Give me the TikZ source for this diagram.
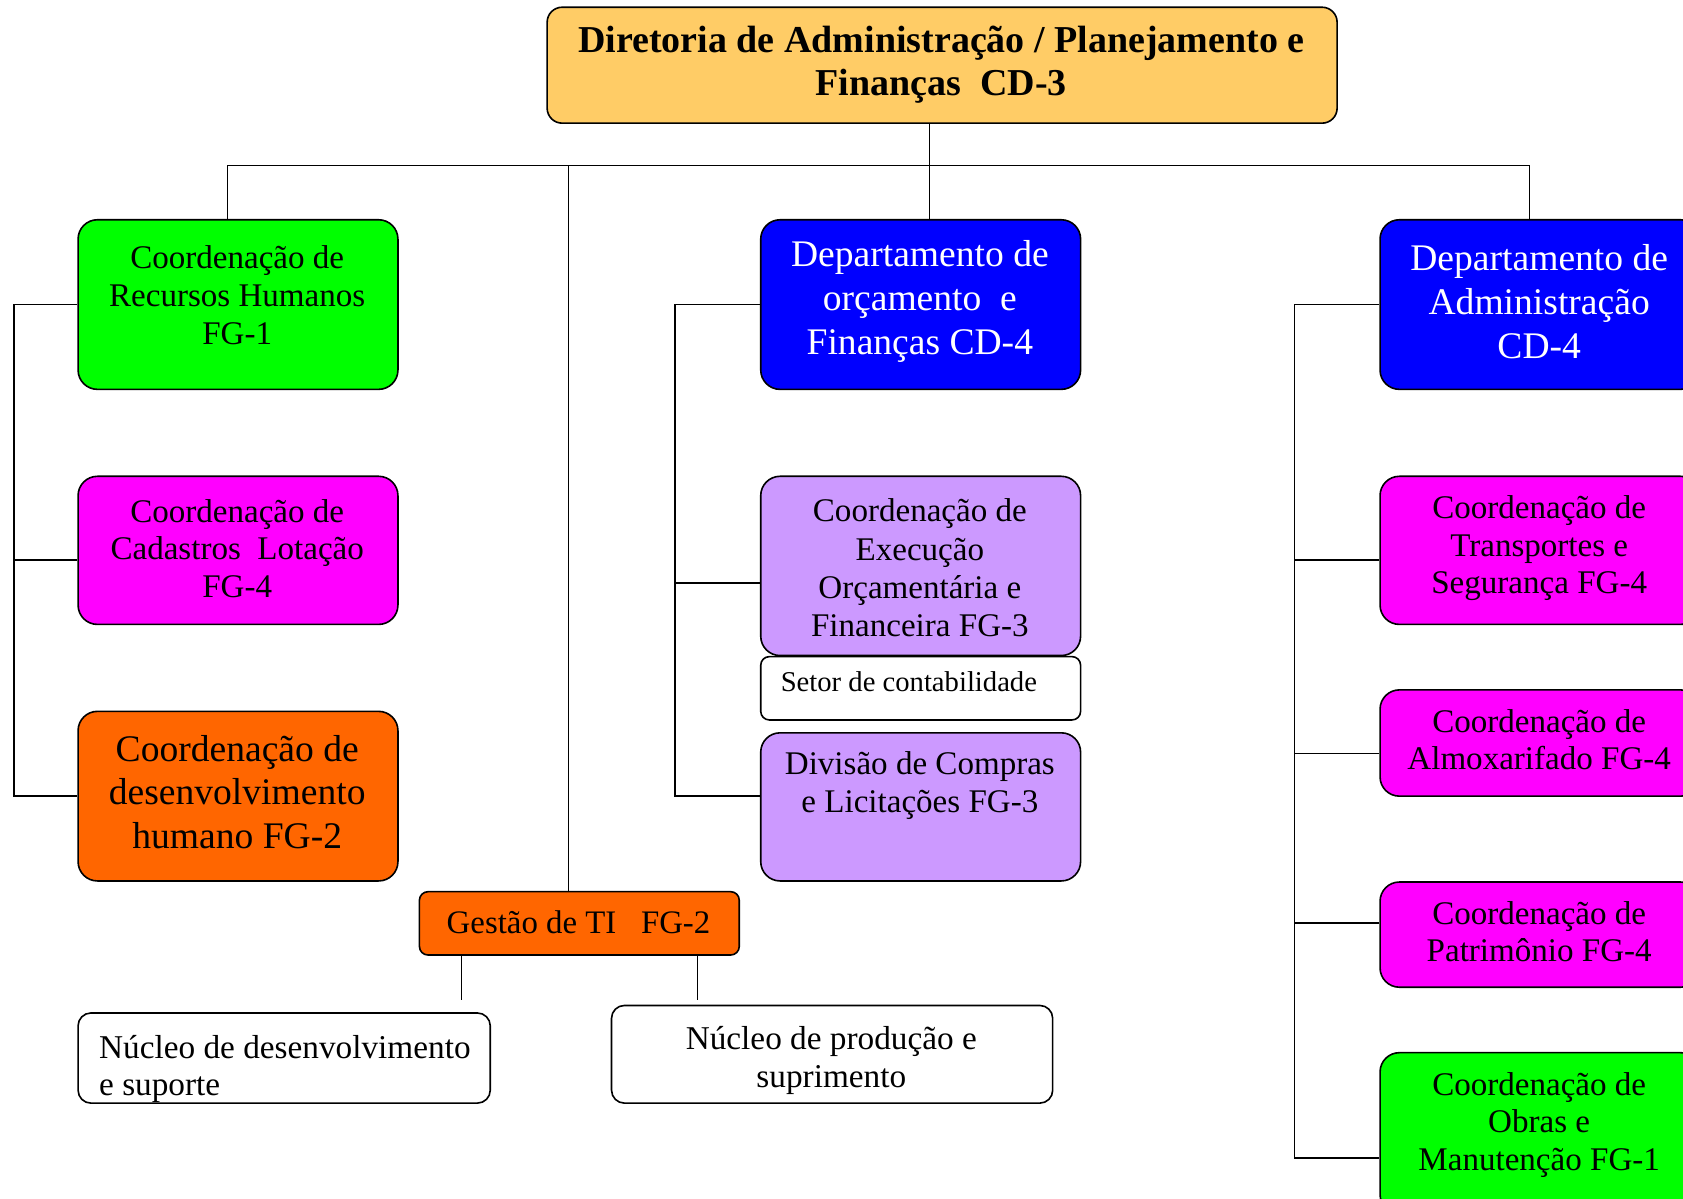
\documentclass[tikz,border=0pt]{standalone}
\usepackage{fontspec}
\setmainfont{Liberation Serif}
\definecolor{titlefill}{HTML}{FFCC66}
\definecolor{greenfill}{HTML}{00FF00}
\definecolor{magentafill}{HTML}{FF00FF}
\definecolor{orangefill}{HTML}{FF6600}
\definecolor{bluefill}{HTML}{0000FF}
\definecolor{lilacfill}{HTML}{CC99FF}
\begin{document}
\begin{tikzpicture}[x=0.5pt,y=-0.5pt,
  box/.style={draw=black, line width=0.75pt, rounded corners=9pt, inner sep=0pt,
    anchor=north west, minimum width=149pt},
  txt/.style={align=center, inner sep=0pt, font=\fontsize{15.4}{17.5}\selectfont},
  bigtxt/.style={align=center, inner sep=0pt, text=white, font=\fontsize{17.5}{20.5}\selectfont},
  wire/.style={draw=black, line width=0.65pt},
]
\useasboundingbox (0,0) rectangle (1568,1117);
\clip (0,0) rectangle (1568,1117);

% ---------- boxes ----------
\node[box, fill=titlefill, minimum width=368pt, minimum height=54pt, rounded corners=7pt] (dir) at (509,6) {};
\node[align=center, inner sep=0pt, font=\fontsize{17.7}{20}\selectfont\bfseries] (dir-t) at (877,60)
  {Diretoria de Administração / Planejamento e\\Finanças\ \ CD-3};

% left column
\node[box, fill=greenfill, minimum height=79pt] (rh) at (72,204) {};
\node[txt] (rh-t) at (221,275) {Coordenação de\\Recursos Humanos\\FG-1};
\node[box, fill=magentafill, minimum height=69pt] (cad) at (72,443) {};
\node[txt] (cad-t) at (221,511) {Coordenação de\\Cadastros\ \ Lotação\\FG-4};
\node[box, fill=orangefill, minimum height=79pt] (dh) at (72,662) {};
\node[align=center, inner sep=0pt, font=\fontsize{17.5}{20.25}\selectfont] (dh-t) at (221,738)
  {Coordenação de\\desenvolvimento\\humano FG-2};

% middle column
\node[box, fill=bluefill, minimum height=79pt] (dorc) at (708,204) {};
\node[bigtxt] (dorc-t) at (857,281) {Departamento de\\orçamento\ \ e\\Finanças CD-4};
\node[box, fill=lilacfill, minimum height=83.5pt] (exe) at (708,443) {};
\node[align=center, inner sep=0pt, font=\fontsize{15.4}{17.8}\selectfont] (exe-t) at (857,529)
  {Coordenação de\\Execução\\Orçamentária e\\Financeira FG-3};
\node[box, fill=white, minimum height=29.5pt, rounded corners=4pt] (set) at (708,611) {};
\node[anchor=base west, inner sep=0pt, font=\fontsize{13.35}{16}\selectfont] (set-t) at (727,644) {Setor de contabilidade};
\node[box, fill=lilacfill, minimum height=69pt] (div) at (708,682) {};
\node[txt] (div-t) at (857,732) {Divisão de Compras\\e Licitações FG-3};

% IT management and its units
\node[box, fill=orangefill, minimum height=29.5pt, rounded corners=4pt] (gti) at (390,830) {};
\node[inner sep=0pt, font=\fontsize{15.3}{17.5}\selectfont] (gti-t) at (539,859) {Gestão de TI\ \ \ FG-2};
\node[box, fill=white, minimum width=192pt, minimum height=42pt, rounded corners=6pt] (nd) at (72,943) {};
\begin{scope}
  \clip (nd.south west) rectangle (nd.north east);
  % the node's base is the baseline of its last line
  \node[anchor=base west, align=left, inner sep=0pt, font=\fontsize{15.5}{17.5}\selectfont] (nd-t) at (92,1021)
    {Núcleo de desenvolvimento\\e suporte};
\end{scope}
\node[box, fill=white, minimum width=205.5pt, minimum height=45.5pt, rounded corners=6pt] (np) at (569,936) {};
\node[align=center, inner sep=0pt, font=\fontsize{15.5}{17.5}\selectfont] (np-t) at (774.5,988)
  {Núcleo de produção e\\suprimento};

% right column
\node[box, fill=bluefill, minimum height=79pt] (da) at (1285,204) {};
\node[bigtxt] (da-t) at (1434,281) {Departamento de\\Administração\\CD-4};
\node[box, fill=magentafill, minimum height=69pt] (tr) at (1285,443) {};
\node[txt] (tr-t) at (1434,511) {Coordenação de\\Transportes e\\Segurança FG-4};
\node[box, fill=magentafill, minimum height=49.5pt] (al) at (1285,642) {};
\node[txt] (al-t) at (1434,689) {Coordenação de\\Almoxarifado FG-4};
\node[box, fill=magentafill, minimum height=49pt] (pa) at (1285,821) {};
\node[txt] (pa-t) at (1434,868) {Coordenação de\\Patrimônio FG-4};
\node[box, fill=greenfill, minimum height=75pt] (ob) at (1285,980) {};
\node[txt] (ob-t) at (1434,1048) {Coordenação de\\Obras e\\Manutenção FG-1};

% ---------- connectors ----------
\coordinate (hub) at (866,154);
\draw[wire] (hub |- dir.south) -- (hub |- dorc.north);
\draw[wire] ([xshift=-5pt]rh.north) |- (hub);
\draw[wire] ([xshift=-5pt]gti.north) |- (hub);
\draw[wire] ([xshift=-5pt]da.north) |- (hub);

% left bracket
\coordinate (lb) at (13,0);
\draw[wire] (rh.west) -| (dh.west -| lb) -- (dh.west);
\draw[wire] ([yshift=-4.5pt]cad.west) -- ([yshift=-4.5pt]cad.west -| lb);

% middle bracket
\coordinate (mb) at (629,0);
\draw[wire] (dorc.west) -| ([yshift=5pt]div.west -| mb) -- ([yshift=5pt]div.west);
\draw[wire] ([yshift=-8pt]exe.west) -- ([yshift=-8pt]exe.west -| mb);

% right bracket
\coordinate (rb) at (1206,0);
\draw[wire] (da.west) -| ([yshift=-11.5pt]ob.west -| rb) -- ([yshift=-11.5pt]ob.west);
\draw[wire] ([yshift=-4.5pt]tr.west) -- ([yshift=-4.5pt]tr.west -| rb);
\draw[wire] ([yshift=-4.75pt]al.west) -- ([yshift=-4.75pt]al.west -| rb);
\draw[wire] ([yshift=5.5pt]pa.west) -- ([yshift=5.5pt]pa.west -| rb);

% stubs below the IT box
\draw[wire] ([xshift=-55pt]gti.south) -- ++(0,41);
\draw[wire] ([xshift=55pt]gti.south) -- ++(0,41);
\end{tikzpicture}
\end{document}
